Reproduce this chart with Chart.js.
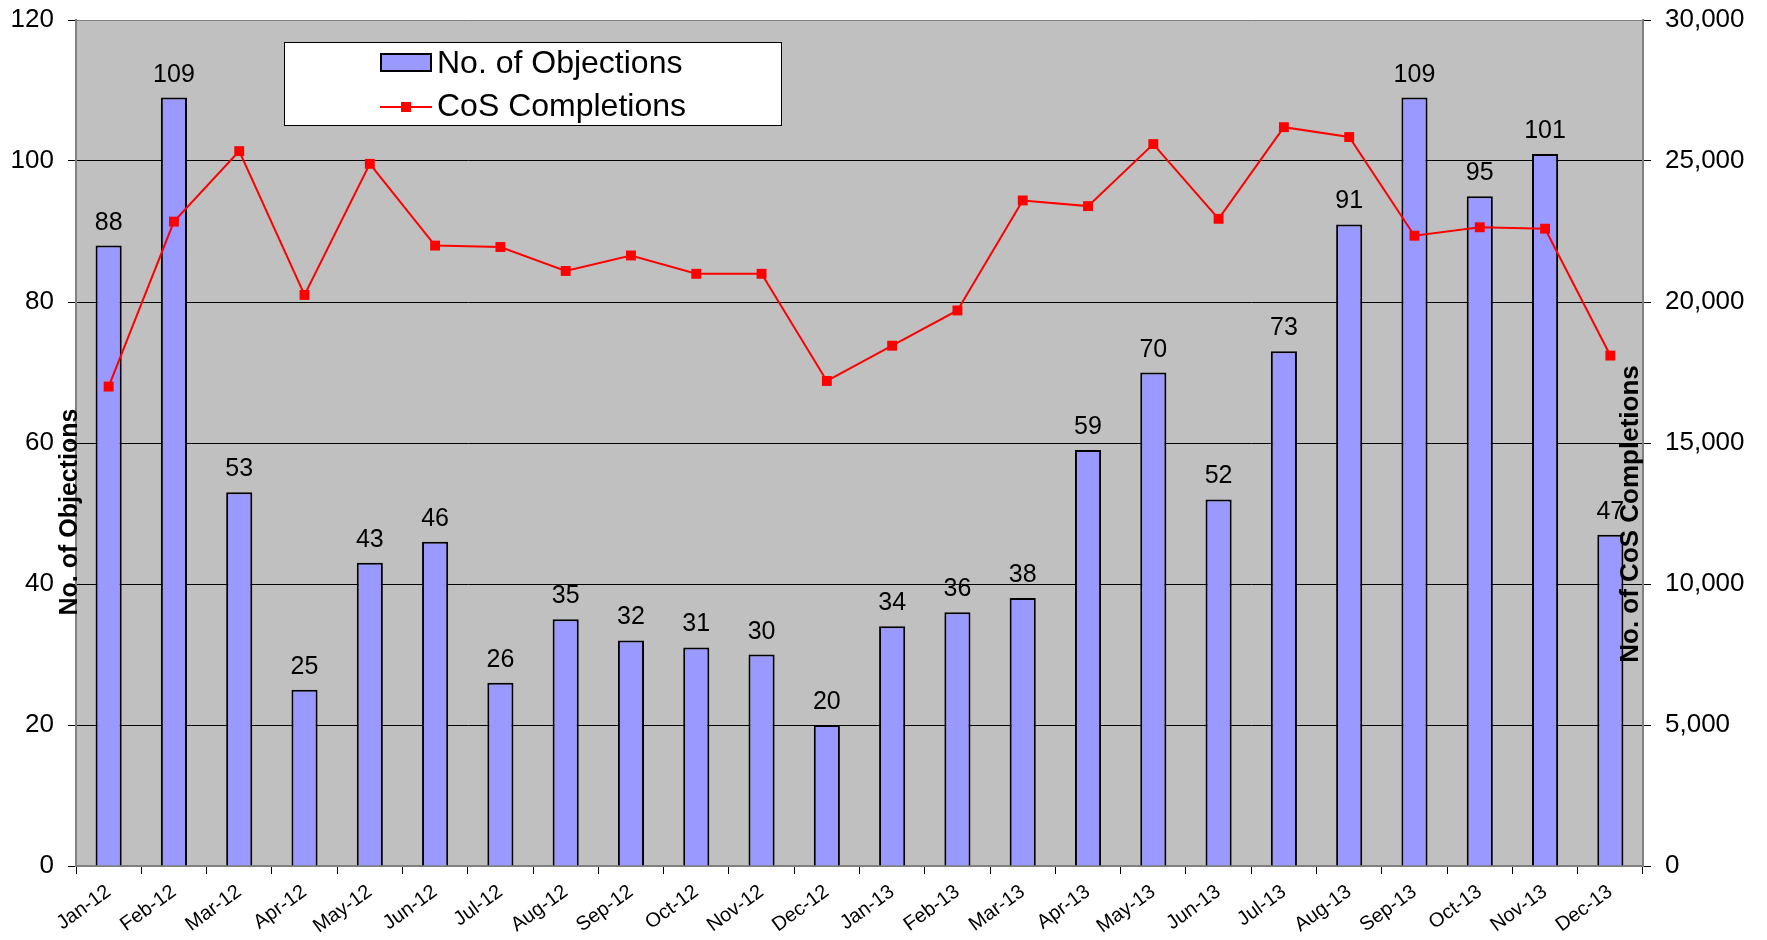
<!DOCTYPE html>
<html>
<head>
<meta charset="utf-8">
<script src="https://cdn.jsdelivr.net/npm/chart.js@4"></script>
<style>
  html, body { margin: 0; padding: 0; background: #fff; }
  #wrap { width: 1767px; height: 940px; }
</style>
</head>
<body>
<div id="wrap"><canvas id="chart" width="1767" height="940"></canvas></div>
<script>
const months = ["Jan-12","Feb-12","Mar-12","Apr-12","May-12","Jun-12","Jul-12","Aug-12","Sep-12","Oct-12","Nov-12","Dec-12",
                "Jan-13","Feb-13","Mar-13","Apr-13","May-13","Jun-13","Jul-13","Aug-13","Sep-13","Oct-13","Nov-13","Dec-13"];
const objections = [88,109,53,25,43,46,26,35,32,31,30,20,34,36,38,59,70,52,73,91,109,95,101,47];
const completions = [17000,22850,25350,20250,24900,22000,21950,21100,21650,21000,21000,17200,
                     18450,19700,23600,23400,25600,22950,26200,25850,22350,22650,22600,18100];
const leftTicks = [0,20,40,60,80,100,120];
const rightTicks = [0,5000,10000,15000,20000,25000,30000];

const FONT = "'Liberation Sans', Arial, sans-serif";
const GRAY = "#808080";

const bgPlugin = {
  id: "plotBg",
  beforeDraw(chart) {
    const { ctx, chartArea: a } = chart;
    ctx.save();
    ctx.fillStyle = "#C0C0C0";
    ctx.fillRect(a.left, a.top, a.right - a.left, a.bottom - a.top);
    ctx.restore();
  }
};

const extrasPlugin = {
  id: "extras",
  afterDatasetsDraw(chart) {
    const { ctx } = chart;
    // value labels above the bars
    const meta = chart.getDatasetMeta(1);
    ctx.save();
    ctx.fillStyle = "#000";
    ctx.font = "25px " + FONT;
    ctx.textAlign = "center";
    ctx.textBaseline = "alphabetic";
    meta.data.forEach((bar, i) => {
      ctx.fillText(String(objections[i]), bar.x, bar.y - 16);
    });
    ctx.restore();
  },
  afterDraw(chart) {
    const { ctx } = chart;
    ctx.save();
    // axis titles (they sit over the plot edges in the original)
    ctx.fillStyle = "#000";
    ctx.textAlign = "center";
    ctx.textBaseline = "middle";
    ctx.font = "bold 25px " + FONT;
    ctx.translate(70, 512);
    ctx.rotate(-Math.PI / 2);
    ctx.fillText("No. of Objections", 0, 0);
    ctx.setTransform(1, 0, 0, 1, 0, 0);
    ctx.font = "bold 26px " + FONT;
    ctx.translate(1631, 514);
    ctx.rotate(-Math.PI / 2);
    ctx.fillText("No. of CoS Completions", 0, 0);
    ctx.setTransform(1, 0, 0, 1, 0, 0);

    // legend box
    ctx.fillStyle = "#fff";
    ctx.fillRect(284, 42, 497, 83);
    ctx.strokeStyle = "#000";
    ctx.lineWidth = 1;
    ctx.strokeRect(284.5, 42.5, 497, 83);
    ctx.fillStyle = "#9999FF";
    ctx.fillRect(381, 54, 50, 17);
    ctx.lineWidth = 2;
    ctx.strokeRect(381, 54, 50, 17);
    ctx.strokeStyle = "#FF0000";
    ctx.beginPath();
    ctx.moveTo(380, 107);
    ctx.lineTo(432, 107);
    ctx.stroke();
    ctx.fillStyle = "#FF0000";
    ctx.fillRect(401, 102, 10, 10);
    ctx.fillStyle = "#000";
    ctx.font = "32px " + FONT;
    ctx.textAlign = "left";
    ctx.fillText("No. of Objections", 437, 64);
    ctx.fillText("CoS Completions", 437, 107);
    ctx.restore();
  }
};

function noOverflow(s, w) {
  s.width = w;
  s.paddingTop = 0;
  s.paddingBottom = 0;
}

new Chart(document.getElementById("chart"), {
  data: {
    labels: months,
    datasets: [
      {
        type: "line",
        label: "CoS Completions",
        data: completions,
        yAxisID: "y1",
        borderColor: "#FF0000",
        borderWidth: 2,
        backgroundColor: "#FF0000",
        pointStyle: "rect",
        pointRadius: 7,
        pointBorderWidth: 0,
        tension: 0,
        order: 0
      },
      {
        type: "bar",
        label: "No. of Objections",
        data: objections,
        yAxisID: "y",
        backgroundColor: "#9999FF",
        borderColor: "#000",
        borderWidth: 2,
        barPercentage: 0.4,
        categoryPercentage: 1,
        order: 1
      }
    ]
  },
  options: {
    responsive: false,
    devicePixelRatio: 1,
    animation: false,
    layout: { padding: { top: 20, left: 0, right: 0, bottom: 0 } },
    plugins: { legend: { display: false }, tooltip: { enabled: false } },
    scales: {
      x: {
        afterFit(s) { s.height = 74; s.paddingLeft = 0; s.paddingRight = 0; },
        grid: { offset: true, drawOnChartArea: false, tickLength: 8, color: "#000" },
        border: { color: GRAY, width: 2 },
        ticks: {
          color: "#000", font: { family: FONT, size: 20 },
          minRotation: 36, maxRotation: 36, autoSkip: false, padding: 6
        }
      },
      y: {
        position: "left",
        min: 0, max: 120,
        afterFit(s) { noOverflow(s, 76); },
        afterBuildTicks(s) { s.ticks = leftTicks.map(v => ({ value: v })); },
        grid: {
          color: ctx => (ctx.tick && (ctx.tick.value === 120 || ctx.tick.value === 0)) ? GRAY : "#000",
          tickColor: "#000",
          tickLength: 8,
          lineWidth: 1
        },
        border: { color: GRAY, width: 2 },
        ticks: { color: "#000", font: { family: FONT, size: 26 }, padding: 14 }
      },
      y1: {
        position: "right",
        min: 0, max: 30000,
        afterFit(s) { noOverflow(s, 124); },
        afterBuildTicks(s) { s.ticks = rightTicks.map(v => ({ value: v })); },
        grid: { drawOnChartArea: false, tickLength: 8, color: "#000" },
        border: { color: GRAY, width: 2 },
        ticks: {
          color: "#000", font: { family: FONT, size: 26 }, padding: 14,
          callback: v => Number(v).toLocaleString("en-US")
        }
      }
    }
  },
  plugins: [bgPlugin, extrasPlugin]
});
</script>
</body>
</html>
